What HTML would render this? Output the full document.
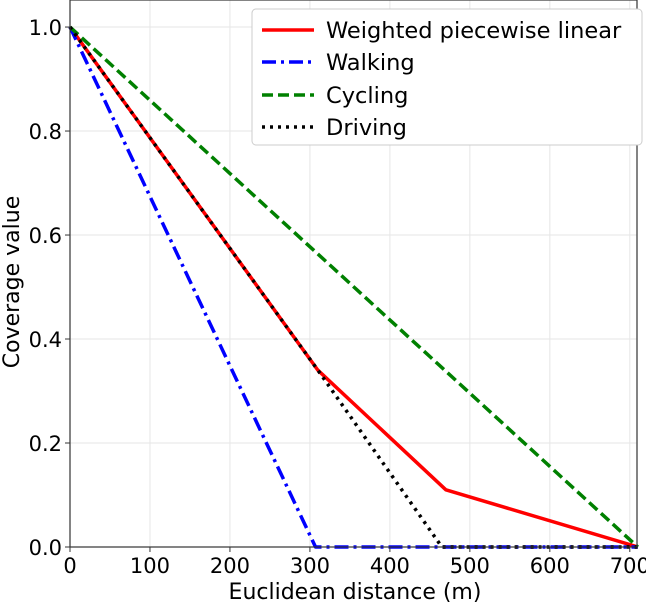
<!DOCTYPE html>
<html><head><meta charset="utf-8"><style>
body{margin:0;background:#fff;}
text{font-family:"DejaVu Sans","Liberation Sans",sans-serif;fill:#000;}
</style></head><body>
<svg id="chart" width="646" height="604" xmlns="http://www.w3.org/2000/svg">
<g id="grid"></g>
<g id="series"></g>
<g id="axes"></g>
<text x="355" y="599" font-size="22" text-anchor="middle">Euclidean distance (m)</text>
<text transform="translate(19,282) rotate(-90)" font-size="22" text-anchor="middle">Coverage value</text>
<g>
<rect x="252" y="9" width="390" height="136" rx="4" fill="#fff" stroke="#ccc"/>
<g><line x1="262" y1="30" x2="314" y2="30" stroke="#f00" stroke-width="3.5"/><text x="326" y="38" font-size="22.5">Weighted piecewise linear</text></g>
<g><line x1="262" y1="62" x2="314" y2="62" stroke="#00f" stroke-width="3.5" stroke-dasharray="14,5,3,5"/><text x="326" y="70" font-size="22.5">Walking</text></g>
<g><line x1="262" y1="95" x2="314" y2="95" stroke="#008000" stroke-width="3.5" stroke-dasharray="11,5"/><text x="326" y="103" font-size="22.5">Cycling</text></g>
<g><line x1="262" y1="127" x2="314" y2="127" stroke="#000" stroke-width="3.5" stroke-dasharray="3,5"/><text x="326" y="135" font-size="22.5">Driving</text></g>
</g>
</svg>
<script>
const xTicks=[0,100,200,300,400,500,600,700];
const yTicks=[0.0,0.2,0.4,0.6,0.8,1.0];
const weightedX=[0,310,470,710];
const weightedY=[1,0.34,0.11,0];
const walkingX=[0,307,710];
const walkingY=[1,0,0];
const cyclingX=[0,710];
const cyclingY=[1,0];
const drivingX=[0,310,465,710];
const drivingY=[1,0.34,0,0];
const L=70,R=637,T=0,B=547,XMAX=709,YMAX=1.052;
const sx=v=>L+v/XMAX*(R-L);
const sy=v=>B-v/YMAX*(B-T);
const NS='http://www.w3.org/2000/svg';
function mk(tag,attrs,parent){const e=document.createElementNS(NS,tag);for(const k in attrs)e.setAttribute(k,attrs[k]);parent.appendChild(e);return e;}
const grid=document.getElementById('grid'),axes=document.getElementById('axes'),ser=document.getElementById('series');
xTicks.forEach(t=>{
 const g=mk('line',{x1:sx(t),x2:sx(t),y1:T,y2:B,stroke:'#e6e6e6','stroke-width':1},grid);
 
 mk('line',{x1:sx(t),x2:sx(t),y1:B,y2:B+5,stroke:'#333','stroke-width':1},axes);
 const tx=mk('text',{x:sx(t),y:B+26,'font-size':21,'text-anchor':'middle'},axes);tx.textContent=t;
 
});
yTicks.forEach(t=>{
 const g=mk('line',{x1:L,x2:R,y1:sy(t),y2:sy(t),stroke:'#e6e6e6','stroke-width':1},grid);
 
 mk('line',{x1:L-5,x2:L,y1:sy(t),y2:sy(t),stroke:'#333','stroke-width':1},axes);
 const tx=mk('text',{x:L-8,y:sy(t)+8,'font-size':21,'text-anchor':'end'},axes);tx.textContent=t.toFixed(1);
 
});
const fr=mk('rect',{x:L,y:T,width:R-L,height:B-T,fill:'none',stroke:'#333','stroke-width':1.2},axes);

function line(xs,ys,color,dash,name){
 const p=mk('polyline',{points:xs.map((x,i)=>sx(x)+','+sy(ys[i])).join(' '),fill:'none',stroke:color,'stroke-width':3.5,'stroke-linejoin':'round','stroke-dasharray':dash||'none'},ser);
 
}
line(weightedX,weightedY,'#f00','', 'weighted-line');
line(walkingX,walkingY,'#00f','14,5,3,5','walking-line');
line(cyclingX,cyclingY,'#008000','11,5','cycling-line');
line(drivingX,drivingY,'#000','3,5','driving-line');
</script>
</body></html>
